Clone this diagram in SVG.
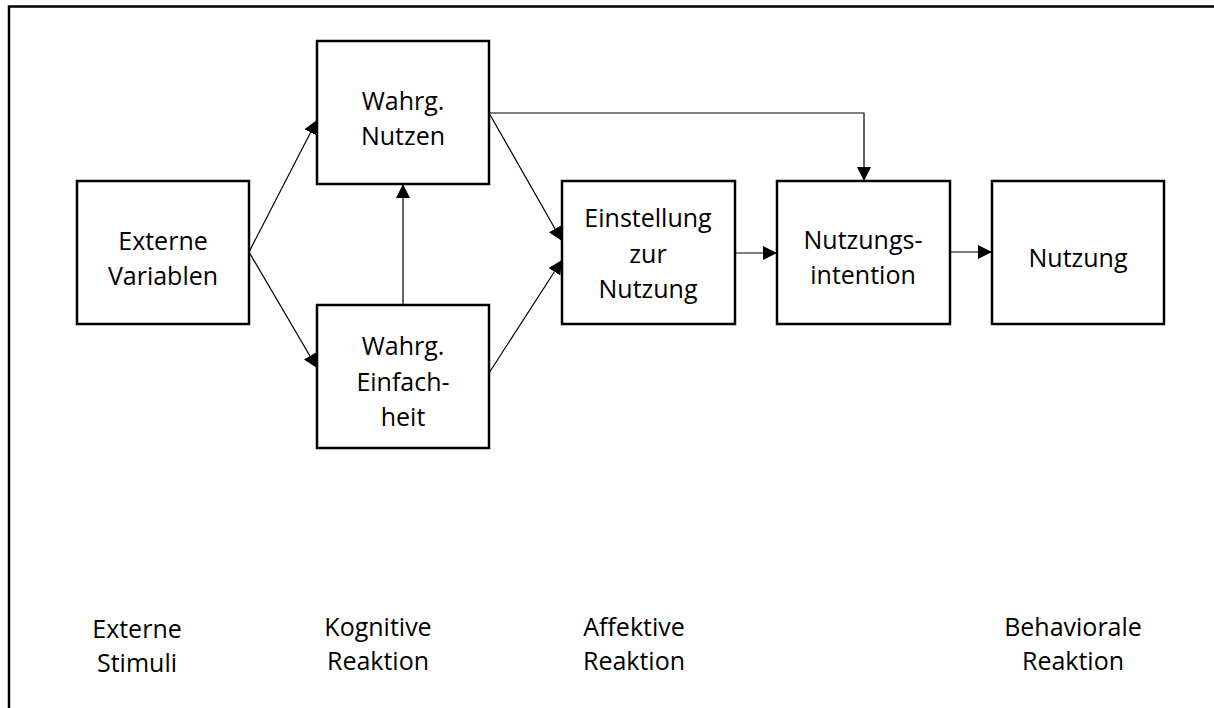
<svg xmlns="http://www.w3.org/2000/svg" width="1214" height="708" viewBox="0 0 1214 708">
  <defs>
    <style>
      .box { fill: #ffffff; stroke: #000000; stroke-width: 2.5; }
      .lbl { font-family: "Open Sans", "Liberation Sans", sans-serif; font-size: 25px; fill: #000000; text-anchor: middle; }
      .edge { fill: none; stroke: #000000; stroke-width: 1.2; }
      .frame { fill: none; stroke: #000000; stroke-width: 2.5; }
    </style>
    <marker id="tri" viewBox="0 0 14 14" refX="14" refY="7" markerWidth="14" markerHeight="14" markerUnits="userSpaceOnUse" orient="auto">
      <path d="M0,0 L14,7 L0,14 Z" fill="#000000"/>
    </marker>
  </defs>

  <rect width="1214" height="708" fill="#ffffff"/>

  <!-- outer frame (open to the right and bottom) -->
  <path class="frame" d="M9,712 V6.5 H1218"/>

  <g id="node-externe-variablen">
    <rect class="box" x="77" y="181" width="172" height="143"/>
    <text class="lbl" x="163" y="250">Externe</text>
    <text class="lbl" x="163" y="285">Variablen</text>
  </g>

  <g id="node-wahrg-nutzen">
    <rect class="box" x="317" y="41" width="172" height="143"/>
    <text class="lbl" x="403" y="110">Wahrg.</text>
    <text class="lbl" x="403" y="145">Nutzen</text>
  </g>

  <g id="node-wahrg-einfachheit">
    <rect class="box" x="317" y="305" width="172" height="143"/>
    <text class="lbl" x="403" y="355">Wahrg.</text>
    <text class="lbl" x="403" y="391">Einfach-</text>
    <text class="lbl" x="403" y="426">heit</text>
  </g>

  <g id="node-einstellung">
    <rect class="box" x="562" y="181" width="173" height="143"/>
    <text class="lbl" x="648" y="227">Einstellung</text>
    <text class="lbl" x="648" y="263">zur</text>
    <text class="lbl" x="648" y="298">Nutzung</text>
  </g>

  <g id="node-nutzungsintention">
    <rect class="box" x="777" y="181" width="173" height="143"/>
    <text class="lbl" x="863" y="249">Nutzungs-</text>
    <text class="lbl" x="863" y="284">intention</text>
  </g>

  <g id="node-nutzung">
    <rect class="box" x="992" y="181" width="172" height="143"/>
    <text class="lbl" x="1078" y="267">Nutzung</text>
  </g>

  <g id="connectors">
    <path class="edge" d="M249,252 L317,120" marker-end="url(#tri)"/>
    <path class="edge" d="M249,252 L317,368" marker-end="url(#tri)"/>
    <path class="edge" d="M403,305 L403,184" marker-end="url(#tri)"/>
    <path class="edge" d="M489,113 L562,241" marker-end="url(#tri)"/>
    <path class="edge" d="M489,373 L562,260" marker-end="url(#tri)"/>
    <path class="edge" d="M489,113 H864 V181" marker-end="url(#tri)"/>
    <path class="edge" d="M735,253 H777" marker-end="url(#tri)"/>
    <path class="edge" d="M950,252 H992" marker-end="url(#tri)"/>
  </g>

  <g id="stage-labels">
    <text class="lbl" x="137" y="638">Externe</text>
    <text class="lbl" x="137" y="672">Stimuli</text>
    <text class="lbl" x="378" y="636">Kognitive</text>
    <text class="lbl" x="378" y="670">Reaktion</text>
    <text class="lbl" x="634" y="636">Affektive</text>
    <text class="lbl" x="634" y="670">Reaktion</text>
    <text class="lbl" x="1073" y="636">Behaviorale</text>
    <text class="lbl" x="1073" y="670">Reaktion</text>
  </g>
</svg>
